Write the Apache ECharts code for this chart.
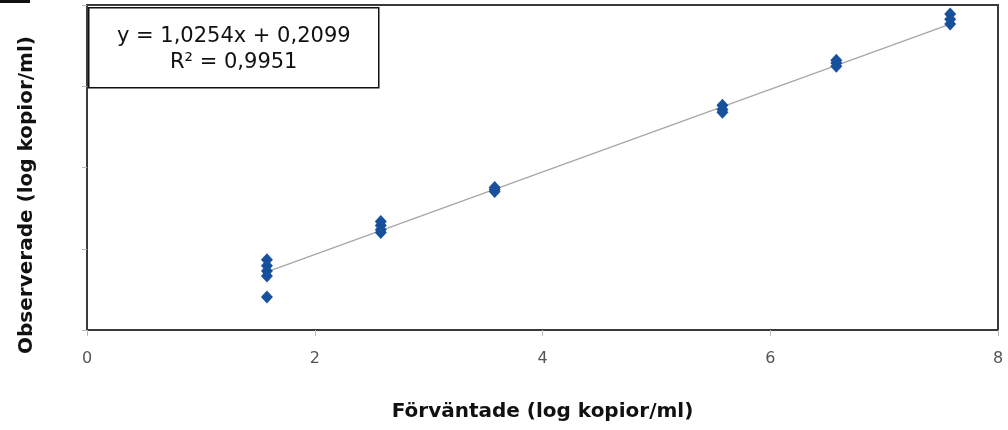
<!DOCTYPE html>
<html>
<head>
<meta charset="utf-8">
<script src="https://cdn.jsdelivr.net/npm/echarts@6/dist/echarts.min.js"></script>
<style>
  html, body { margin: 0; padding: 0; background: #fff; }
  #chart { width: 1008px; height: 430px; }
</style>
</head>
<body>
<div id="chart"></div>
<script>
// förväntade värden (x) och observerade värden (y)
let expected = [1.58, 1.58, 1.58, 1.58, 1.58,
  2.58, 2.58, 2.58, 2.58,
  3.58, 3.58, 3.58,
  5.58, 5.58, 5.58,
  6.58, 6.58, 6.58,
  7.58, 7.58, 7.58];
let observed = [1.73, 1.58, 1.45, 1.33, 0.81,
  2.67, 2.57, 2.47, 2.40,
  3.51, 3.46, 3.41,
  5.53, 5.43, 5.36,
  6.64, 6.57, 6.49,
  7.78, 7.65, 7.53];
// trendlinjens ändpunkter
let trendX = [1.58, 7.58];
let trendY = [1.43, 7.53];
let xTicks = [0, 2, 4, 6, 8];
let equation = "y = 1,0254x + 0,2099";
let rSquared = "R² = 0,9951";
let yTitle = "Observerade (log kopior/ml)";

let chart = echarts.init(document.getElementById("chart"));

let option = {
  backgroundColor: "#fff",
  animation: false,
  grid: {
    left: 87,
    right: 10,
    top: 5,
    bottom: 100,
    show: true,
    borderColor: "#3a3a3a",
    borderWidth: 2,
  },
  xAxis: {
    type: "value",
    min: xTicks[0],
    max: xTicks[xTicks.length - 1],
    interval: 2,
    name: "Förväntade (log kopior/ml)",
    nameLocation: "middle",
    nameGap: 72,
    nameTextStyle: {
      fontFamily: "DejaVu Sans",
      fontWeight: "bold",
      fontSize: 20,
      color: "#111",
    },
    axisLine: { show: true, lineStyle: { color: "#3a3a3a", width: 2 } },
    axisTick: { show: true, length: 6, lineStyle: { color: "#bbb" } },
    axisLabel: {
      margin: 21,
      fontFamily: "DejaVu Sans",
      fontSize: 16,
      color: "#555",
    },
    splitLine: { show: false },
  },
  yAxis: {
    type: "value",
    min: 0,
    max: 8,
    interval: 2,
    axisLine: { show: true, lineStyle: { color: "#3a3a3a", width: 2 } },
    axisTick: { show: true, length: 5, lineStyle: { color: "#bbb" } },
    axisLabel: { show: false },
    splitLine: { show: false },
  },
  graphic: [
    {
      type: "rect",
      left: 0,
      top: 0,
      shape: { width: 30, height: 3 },
      style: { fill: "#111" },
    },
    {
      type: "text",
      x: 27,
      y: 195,
      rotation: Math.PI / 2,
      style: {
        text: yTitle,
        fontFamily: "DejaVu Sans",
        fontWeight: "bold",
        fontSize: 20,
        fill: "#111",
        textAlign: "center",
        textVerticalAlign: "middle",
      },
    },
    {
      type: "group",
      left: 88,
      top: 7,
      children: [
        {
          type: "rect",
          shape: { x: 0, y: 0, width: 290, height: 80 },
          style: { fill: "#fff", stroke: "#111", lineWidth: 1.5 },
        },
        {
          type: "text",
          x: 145,
          y: 29,
          style: {
            text: equation,
            fontFamily: "DejaVu Sans",
            fontSize: 21,
            fill: "#111",
            textAlign: "center",
            textVerticalAlign: "middle",
          },
        },
        {
          type: "text",
          x: 145,
          y: 55,
          style: {
            text: rSquared,
            fontFamily: "DejaVu Sans",
            fontSize: 21,
            fill: "#111",
            textAlign: "center",
            textVerticalAlign: "middle",
          },
        },
      ],
    },
  ],
  series: [
    {
      type: "line",
      data: trendX.map((x, i) => [x, trendY[i]]),
      symbol: "none",
      lineStyle: { color: "#a8a8a8", width: 1.5 },
      z: 1,
    },
    {
      type: "scatter",
      data: expected.map((x, i) => [x, observed[i]]),
      symbol: "diamond",
      symbolSize: [12, 13],
      itemStyle: { color: "#17519c", opacity: 1 },
      z: 2,
    },
  ],
};

chart.setOption(option);
</script>
</body>
</html>
